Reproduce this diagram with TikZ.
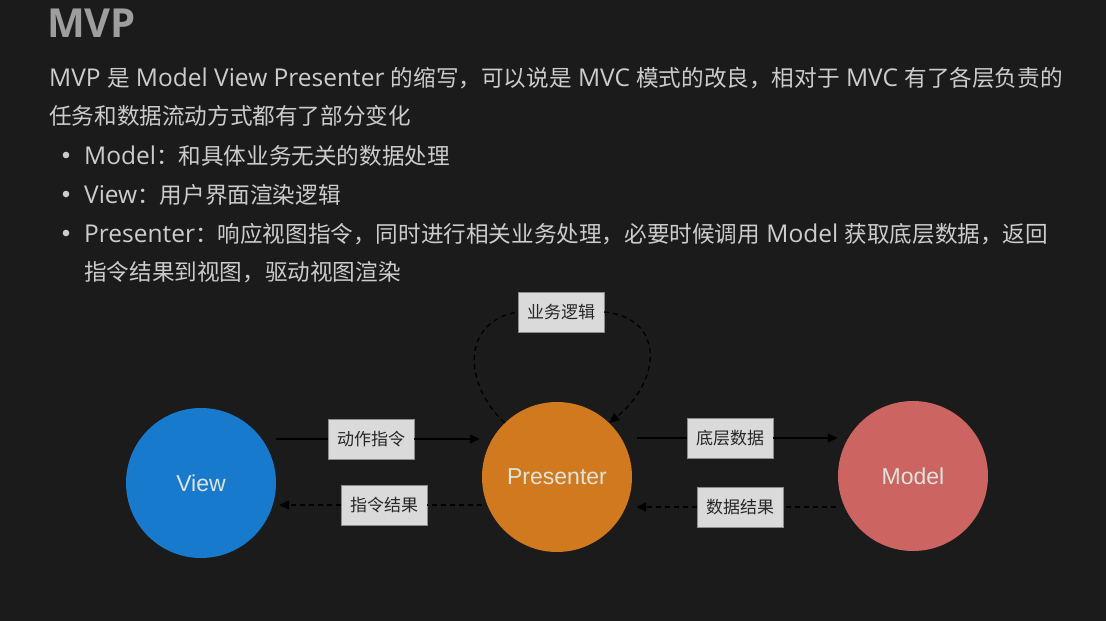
\documentclass[tikz,border=0pt]{standalone}
\usepackage{fontspec}
\setmainfont{Noto Sans CJK SC}
\newfontfamily\latinsans{Liberation Sans}
\newfontfamily\latfont{Open Sans}
\newcommand\lat{\latfont\fontsize{24.5}{24.5}\selectfont}
\usepackage{tikz}
\usetikzlibrary{positioning, arrows.meta}
\usepackage{xcolor}
\definecolor{mvpbg}{RGB}{27, 27, 27}
\definecolor{mvptitle}{RGB}{158, 158, 158}
\definecolor{mvptext}{RGB}{204, 204, 204}
\definecolor{mvpblue}{RGB}{24, 122, 204}
\definecolor{mvporange}{RGB}{208, 121, 31}
\definecolor{mvpred}{RGB}{204, 100, 98}
\definecolor{mvpbox}{RGB}{218, 218, 218}
\definecolor{mvpcirc}{RGB}{222, 228, 220}

\begin{document}
\begin{tikzpicture}[x=1pt, y=-1pt,
    circ/.style={circle, minimum size=150pt, inner sep=0pt, text=mvpcirc, font=\latinsans\fontsize{23}{23}\selectfont},
    lbl/.style={draw=black!45, fill=mvpbox, minimum width=86pt, minimum height=40pt, inner sep=0pt, text=black!85, font=\fontsize{17}{17}\selectfont},
    txt/.style={anchor=base west, inner sep=0pt, text=mvptext, font=\fontsize{22.6}{22.6}\selectfont},
    flow/.style={black, line width=1.3pt},
    tip/.style={-{Triangle[length=10pt, width=9pt]}},
    back/.style={dash pattern=on 5pt off 4pt}]
    % Page
    \fill[mvpbg] (0,0) rectangle (1106,621);
    % Heading and text
    \node[txt, text=mvptitle, font=\latfont\fontsize{40}{40}\selectfont\bfseries] (title) at (47,37) {MVP};
    \node[txt] (intro1) at (49,86) {{\lat MVP }是{\lat\ Model View Presenter }的缩写，可以说是{\lat\ MVC }模式的改良，相对于{\lat\ MVC }有了各层负责的};
    \node[txt] (intro2) at (49,124) {任务和数据流动方式都有了部分变化};
    \foreach \y/\t [count=\i] in {164/{{\lat Model}：和具体业务无关的数据处理}, 203/{{\lat View}：用户界面渲染逻辑}, 242/{{\lat Presenter}：响应视图指令，同时进行相关业务处理，必要时候调用{\lat\ Model }获取底层数据，返回}}{
      \fill[mvptext] (66,\y-9) circle (3.3);
      \node[txt] (item\i) at (84,\y) {\t};
    }
    \node[txt] (item3b) at (84,280) {指令结果到视图，驱动视图渲染};
    % Circles
    \node[circ, fill=mvpblue] (view) at (201,483) {View};
    \node[circ, fill=mvporange] (pres) at (557,477) {Presenter};
    \node[circ, fill=mvpred] (model) at (913,476) {Model};
    % Labels
    \node[lbl] (act) at (371,439) {动作指令};
    \node[lbl] (cmdres) at (384,505) {指令结果};
    \node[lbl] (base) at (730,438) {底层数据};
    \node[lbl] (datares) at (740,507) {数据结果};
    \node[lbl] (logic) at (561,312) {业务逻辑};
    % View -> Presenter -> Model
    \draw[flow] (view.east |- act) -- (act.west);
    \draw[flow, tip, shorten >=2pt] (act.east) -- (pres.west |- act);
    \draw[flow, shorten <=5pt] (pres.east |- base) -- (base.west);
    \draw[flow, tip] (base.east) -- (model.west |- base);
    % Results back
    \draw[flow, back, shorten <=2pt] (model.west |- datares) -- (datares.east);
    \draw[flow, back, tip, shorten >=4pt] (datares.west) -- (pres.east |- datares);
    \draw[flow, back] (pres.west |- cmdres) -- (cmdres.east);
    \draw[flow, back, tip, shorten >=3pt] (cmdres.west) -- (view.east |- cmdres);
    % Self loop
    \draw[flow, back] (pres.134) .. controls (464,385) and (460,322) .. (logic.west);
    \draw[flow, back, tip] (logic.east) .. controls (665,318) and (662,380) .. (pres.46);
\end{tikzpicture}
\end{document}
